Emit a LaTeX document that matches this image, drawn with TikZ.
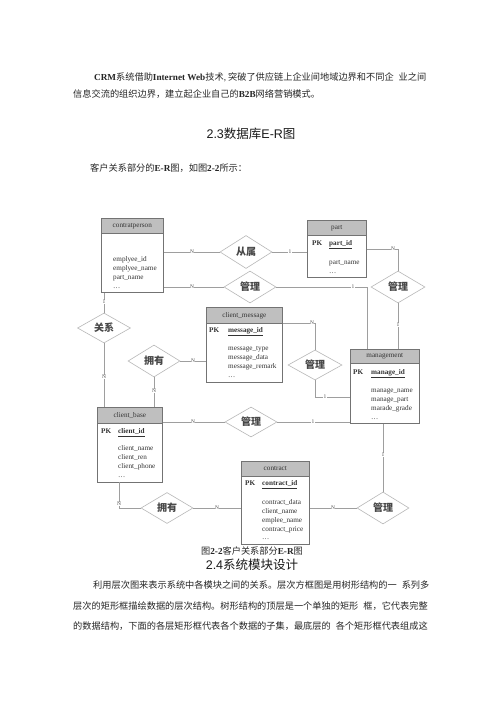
\documentclass[tikz,border=0pt]{standalone}
\usepackage{fontspec}
\setmainfont{Liberation Serif}
\setsansfont{Liberation Sans}
\newfontfamily\cjk{Noto Sans CJK SC}
\usetikzlibrary{shapes.geometric}
\newcommand\lat[1]{{\rmfamily\bfseries #1}}
\newcommand\entlines[4]{%
  \foreach \attrtxt [count=\attrnum] in {#4} {\node[attr] (#1-\attrnum) at (#2,{#3+8.9*(\attrnum-1)}) {\attrtxt};}%
}
\tikzset{
 conn/.style={draw=black!38, line width=0.5pt},
 ent/.style={draw=black!55, line width=0.6pt, fill=white, inner sep=0, anchor=north west},
 enth/.style={draw=black!55, line width=0.6pt, fill=black!25, inner sep=0, anchor=north west},
 rel/.style={diamond, draw=black!28, line width=0.6pt, fill=white, inner sep=0, font=\cjk\bfseries\fontsize{10}{10}\selectfont, text=black!72},
 card/.style={font=\fontsize{5.5}{5.5}\selectfont, text=black!70, fill=white, inner sep=0.4pt},
 attr/.style={font=\fontsize{7.2}{8}\selectfont, text=black!80, inner sep=0, anchor=base west},
 etitle/.style={font=\fontsize{7.2}{8}\selectfont, text=black!80, inner sep=0},
 para/.style={font=\cjk\fontsize{9.2}{11}\selectfont, text=black!85, inner sep=0, anchor=base west},
 head/.style={font=\fontsize{12.5}{14}\selectfont, text=black!90, inner sep=0},
}
\begin{document}
\begin{tikzpicture}[x=1pt,y=-1pt]
\fill[white] (0,0) rectangle (500,708);
\useasboundingbox (0,0) rectangle (500,708);

% ---------- text above ----------
\node[para] (t1) at (94,80.4) {\lat{CRM}系统借助\lat{Internet Web}技术{\rmfamily ,} 突破了供应链上企业间地域边界和不同企\hspace{5pt}业之间};
\node[para] (t2) at (73,97.4) {信息交流的组织边界，建立起企业自己的\lat{B2B}网络营销模式。};
\node[head] (h1) at (251,134) {{\sffamily 2.3}{\cjk 数据库}{\sffamily E-R}{\cjk 图}};
\node[para] (t3) at (90,171.4) {客户关系部分的\lat{E-R}图，如图\lat{2-2}所示：};

% ---------- entities ----------
\node[ent, minimum width=62pt, minimum height=74pt] (cp) at (101,218) {};
\node[enth, minimum width=62pt, minimum height=15pt] (cph) at (101,218) {};
\node[etitle] (cpt) at (cph.center) {contratperson};
\entlines{cpa}{113}{261.3}{emplyee\_id,emplyee\_name,part\_name,\ldots}

\node[ent, minimum width=59pt, minimum height=57pt] (part) at (307,220) {};
\node[enth, minimum width=59pt, minimum height=15pt] (parth) at (307,220) {};
\node[etitle] (partt) at (parth.center) {part};
\node[attr] (partpk) at (312,245.3) {\textbf{PK}};
\node[attr] (partk) at (329,245.3) {\textbf{\underline{part\_id}}};
\entlines{parta}{329}{264.3}{part\_name,\ldots}

\node[ent, minimum width=76pt, minimum height=75pt] (cm) at (206,307) {};
\node[enth, minimum width=76pt, minimum height=16pt] (cmh) at (206,307) {};
\node[etitle] (cmt) at (cmh.center) {client\_message};
\node[attr] (cmpk) at (209,332.3) {\textbf{PK}};
\node[attr] (cmk) at (228,332.3) {\textbf{\underline{message\_id}}};
\entlines{cma}{228}{350.3}{message\_type,message\_data,message\_remark,\ldots}

\node[ent, minimum width=69pt, minimum height=74pt] (mg) at (350,349) {};
\node[enth, minimum width=69pt, minimum height=14pt] (mgh) at (350,349) {};
\node[etitle] (mgt) at (mgh.center) {management};
\node[attr] (mgpk) at (353,374.3) {\textbf{PK}};
\node[attr] (mgk) at (371,374.3) {\textbf{\underline{manage\_id}}};
\entlines{mga}{371}{392.3}{manage\_name,manage\_part,marade\_grade,\ldots}

\node[ent, minimum width=65pt, minimum height=75pt] (cb) at (97,407) {};
\node[enth, minimum width=65pt, minimum height=16pt] (cbh) at (97,407) {};
\node[etitle] (cbt) at (cbh.center) {client\_base};
\node[attr] (cbpk) at (101,433.3) {\textbf{PK}};
\node[attr] (cbk) at (118,433.3) {\textbf{\underline{client\_id}}};
\entlines{cba}{118}{450.3}{client\_name,client\_ren,client\_phone,\ldots}

\node[ent, minimum width=68pt, minimum height=83pt] (ct) at (241,461) {};
\node[enth, minimum width=68pt, minimum height=15pt] (cth) at (241,461) {};
\node[etitle] (ctt) at (cth.center) {contract};
\node[attr] (ctpk) at (245,485.3) {\textbf{PK}};
\node[attr] (ctk) at (262,485.3) {\textbf{\underline{contract\_id}}};
\entlines{cta}{262}{504.3}{contract\_data,client\_name,emplee\_name,contract\_price,\ldots}

% ---------- relationships ----------
\node[rel, minimum width=52pt, minimum height=33pt] (r1) at (246,252) {从属};
\node[rel, minimum width=52pt, minimum height=32pt] (r2) at (250,287) {管理};
\node[rel, minimum width=54pt, minimum height=32pt] (r3) at (398,287) {管理};
\node[rel, minimum width=53pt, minimum height=30pt] (r4) at (104,328) {关系};
\node[rel, minimum width=52pt, minimum height=32pt] (r5) at (154,361) {拥有};
\node[rel, minimum width=54pt, minimum height=30pt] (r6) at (315,365) {管理};
\node[rel, minimum width=52pt, minimum height=30pt] (r7) at (251,422) {管理};
\node[rel, minimum width=52pt, minimum height=31pt] (r8) at (167,508) {拥有};
\node[rel, minimum width=52pt, minimum height=32pt] (r9) at (383,508) {管理};

% ---------- connectors ----------
\coordinate (mgA) at (367,349);
\coordinate (mgL) at (350,397);
\coordinate (cbB) at (119,482);
\draw[conn] (cp.east |- r1) -- (r1.west);
\draw[conn] (r1.east) -- (part.west |- r1);
\draw[conn] (cp.east |- r2) -- (r2.west);
\draw[conn] (r2.east) -| (mgA);
\draw[conn] (part.east) -| (r3.north);
\draw[conn] (r3.south) -- (r3.south |- mg.north);
\draw[conn] (cp.south -| r4) -- (r4.north);
\draw[conn] (r4.south) -- (r4.south |- cb.north);
\draw[conn] (r5.east) -- (cm.west |- r5);
\draw[conn] (r5.south) -- (r5.south |- cb.north);
\draw[conn] (cmh.south east) -| (r6.north);
\draw[conn] (r6.south) |- (mgL);
\draw[conn] (cb.east |- r7) -- (r7.west);
\draw[conn] (r7.east) -- (mg.west |- r7);
\draw[conn] (cbB) |- (r8.west);
\draw[conn] (r8.east) -- (ct.west |- r8);
\draw[conn] (ct.east |- r9) -- (r9.west);
\draw[conn] (mg.south -| r9) -- (r9.north);

% ---------- cardinalities ----------
\node[card] (c1) at (192,252) {N};
\node[card] (c2) at (290,252) {1};
\node[card] (c3) at (192,287) {N};
\node[card] (c4) at (353,287) {1};
\node[card] (c5) at (393,248.5) {N};
\node[card] (c6) at (398,325) {1};
\node[card] (c7) at (104,302) {1};
\node[card] (c8) at (104,377) {N};
\node[card] (c9) at (193,361) {N};
\node[card] (c10) at (154,391) {N};
\node[card] (c11) at (312,323) {N};
\node[card] (c12) at (325,397) {1};
\node[card] (c13) at (193,422) {N};
\node[card] (c14) at (313,422) {1};
\node[card] (c15) at (119,504) {N};
\node[card] (c16) at (217,508) {N};
\node[card] (c17) at (333,508) {N};
\node[card] (c18) at (383,455) {1};

% ---------- text below ----------
\node[para, anchor=center] (cap) at (252,551) {图\lat{2-2}客户关系部分\lat{E-R}图};
\node[head] (h2) at (252,565) {{\sffamily 2.4}{\cjk 系统模块设计}};
\node[para] (p1) at (93,588.4) {利用层次图来表示系统中各模块之间的关系。层次方框图是用树形结构的一\hspace{5pt}系列多};
\node[para] (p2) at (73,609.4) {层次的矩形框描绘数据的层次结构。树形结构的顶层是一个单独的矩形\hspace{5pt}框，它代表完整};
\node[para] (p3) at (73,629.4) {的数据结构，下面的各层矩形框代表各个数据的子集，最底层的\hspace{5pt}各个矩形框代表组成这};
\end{tikzpicture}
\end{document}
